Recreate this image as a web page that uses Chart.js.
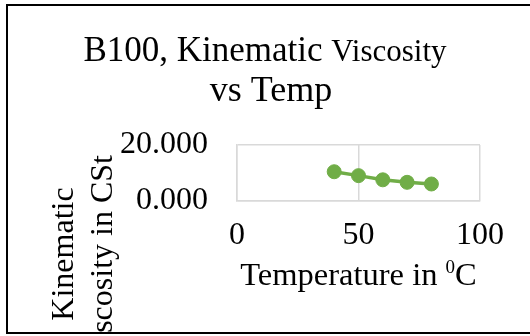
<!DOCTYPE html>
<html><head><meta charset="utf-8">
<script src="https://cdn.jsdelivr.net/npm/chart.js@4.4.1/dist/chart.umd.min.js"></script>
<style>
html,body{margin:0;padding:0;background:#fff;overflow:hidden;}
#frame{position:absolute;left:6px;top:4px;width:540px;height:326px;border:2px solid #000;overflow:hidden;background:#fff;}
canvas{display:block;}
</style></head><body>
<div id="frame"><canvas id="c" width="540" height="326"></canvas></div>
<script>
// B100 kinematic viscosity measured at each temperature
const temperatures = [40, 50, 60, 70, 80];
const viscosities = [10.4, 9.0, 7.5, 6.6, 6.0];
const xTicks = [0, 50, 100];
const yTicks = [0, 20];

const titleMain = 'B100, Kinematic ';
const titleSmall = 'Viscosity';
const titleLine2 = 'vs Temp';
const yTitleLines = ['Kinematic', 'Viscosity in CSt'];
const xTitleParts = ['Temperature in ', '0', 'C'];

const SERIF = "'Liberation Serif', 'Times New Roman', serif";
const GREEN = '#70ad47';
const GRID = '#d9d9d9';

// Titles use mixed sizes and a superscript, so they are painted by hand
const titlesPlugin = {
  id: 'titles',
  afterDraw(chart) {
    const ctx = chart.ctx;
    const area = chart.chartArea;
    ctx.save();
    ctx.fillStyle = '#000';
    ctx.textBaseline = 'alphabetic';
    ctx.textAlign = 'left';

    // chart title, first line with a smaller last word
    const bigFont = '35px ' + SERIF;
    const smallFont = '31px ' + SERIF;
    ctx.font = bigFont;
    const w1 = ctx.measureText(titleMain).width;
    ctx.font = smallFont;
    const w2 = ctx.measureText(titleSmall).width;
    let x = 257 - (w1 + w2) / 2;
    ctx.font = bigFont;
    ctx.fillText(titleMain, x, 55);
    ctx.font = smallFont;
    ctx.fillText(titleSmall, x + w1, 55);
    ctx.font = '36px ' + SERIF;
    ctx.textAlign = 'center';
    ctx.fillText(titleLine2, 263, 95);

    // x axis title with a raised degree digit
    const axisFont = '32.5px ' + SERIF;
    const supFont = '19px ' + SERIF;
    ctx.textAlign = 'left';
    ctx.font = axisFont;
    const a = ctx.measureText(xTitleParts[0]).width;
    const c = ctx.measureText(xTitleParts[2]).width;
    ctx.font = supFont;
    const b = ctx.measureText(xTitleParts[1]).width;
    x = (area.left + area.right) / 2 - (a + b + c) / 2;
    ctx.font = axisFont;
    ctx.fillText(xTitleParts[0], x, 279);
    ctx.font = supFont;
    ctx.fillText(xTitleParts[1], x + a, 267);
    ctx.font = axisFont;
    ctx.fillText(xTitleParts[2], x + a + b, 279);

    // y axis title, two rotated lines
    ctx.font = '32px ' + SERIF;
    ctx.textAlign = 'center';
    ctx.translate(0, 248);
    ctx.rotate(-Math.PI / 2);
    ctx.fillText(yTitleLines[0], 0, 65);
    ctx.fillText(yTitleLines[1], -5, 104);
    ctx.restore();
  }
};

new Chart(document.getElementById('c'), {
  type: 'line',
  data: {
    datasets: [{
      data: temperatures.map((t, i) => ({ x: t, y: viscosities[i] })),
      borderColor: GREEN,
      backgroundColor: GREEN,
      borderWidth: 3.5,
      pointRadius: 7,
      pointBorderWidth: 1,
      pointBackgroundColor: GREEN,
      pointBorderColor: GREEN,
      tension: 0,
      clip: false
    }]
  },
  options: {
    responsive: false,
    animation: false,
    devicePixelRatio: 1,
    layout: { padding: { left: 0, right: 68, top: 139, bottom: 0 } },
    plugins: { legend: { display: false }, tooltip: { enabled: false }, title: { display: false } },
    scales: {
      x: {
        type: 'linear',
        min: 0, max: 100,
        afterBuildTicks: s => { s.ticks = xTicks.map(v => ({ value: v })); },
        afterFit: s => { s.height = 131.3; },
        grid: { color: GRID, lineWidth: 1.5, drawTicks: false },
        border: { display: true, color: GRID, width: 1.5 },
        ticks: { font: { family: SERIF, size: 32 }, color: '#000', padding: 16, maxRotation: 0 }
      },
      y: {
        type: 'linear',
        min: 0, max: 20,
        afterBuildTicks: s => { s.ticks = yTicks.map(v => ({ value: v })); },
        afterFit: s => { s.width = 229; },
        grid: { color: GRID, lineWidth: 1.5, drawTicks: false },
        border: { display: true, color: GRID, width: 1.5 },
        ticks: { font: { family: SERIF, size: 32 }, color: '#000', padding: 29,
          callback: v => Number(v).toFixed(3) }
      }
    }
  },
  plugins: [titlesPlugin]
});
</script>
</body></html>
